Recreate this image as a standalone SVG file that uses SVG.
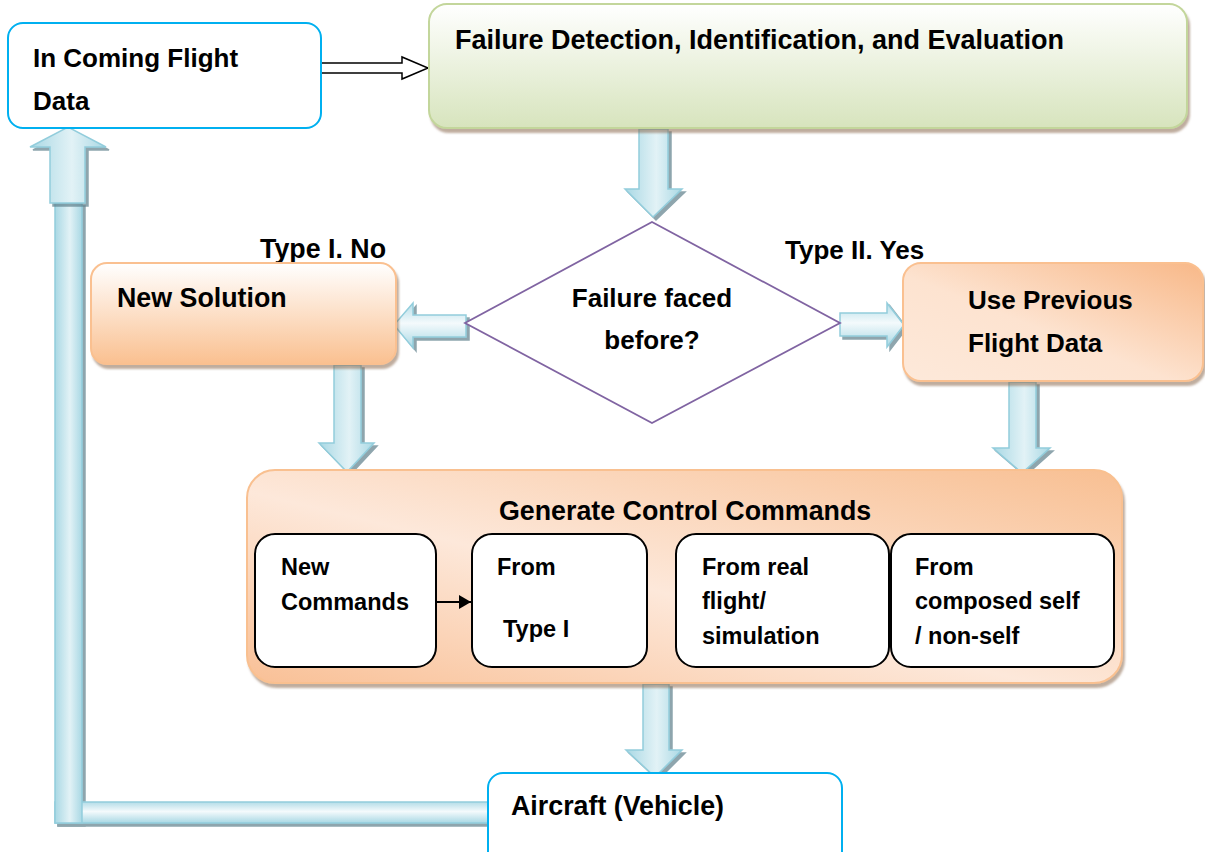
<svg xmlns="http://www.w3.org/2000/svg" width="1205" height="852" viewBox="0 0 1205 852">
<style>
  text { font-family: "Liberation Sans", Arial, sans-serif; font-weight: bold; fill: #000; }
  .big { font-size: 26px; }
  .big27 { font-size: 26.8px; }
  .small { font-size: 23.5px; }
  .mid { text-anchor: middle; }
  .blueBox { fill: #fff; stroke: #00b0f0; stroke-width: 2; }
  .inner { fill: #fff; stroke: #000; stroke-width: 2; }
  .varrow { fill: url(#gV); stroke: #92cddc; stroke-width: 1.5; filter: url(#sh); }
  .harrow { fill: url(#gH); stroke: #92cddc; stroke-width: 1.5; filter: url(#sh); }
</style>
<defs>
  <filter id="sh" x="-20%" y="-20%" width="150%" height="150%">
    <feDropShadow dx="3" dy="3" stdDeviation="0.6" flood-color="#5f7f8a" flood-opacity="0.7"/>
  </filter>
  <linearGradient id="gV" x1="0" y1="0" x2="1" y2="0">
    <stop offset="0" stop-color="#a9d8e4"/>
    <stop offset="0.55" stop-color="#e2f2f6"/>
    <stop offset="1" stop-color="#a9d8e4"/>
  </linearGradient>
  <linearGradient id="gH" x1="0" y1="0" x2="0" y2="1">
    <stop offset="0" stop-color="#b4dde8"/>
    <stop offset="0.45" stop-color="#f4fafc"/>
    <stop offset="1" stop-color="#a9d8e4"/>
  </linearGradient>
  <linearGradient id="gGreen" x1="0" y1="0" x2="0" y2="1">
    <stop offset="0" stop-color="#ffffff"/>
    <stop offset="1" stop-color="#d7e4bd"/>
  </linearGradient>
  <linearGradient id="gOrange" x1="0" y1="0" x2="0" y2="1">
    <stop offset="0" stop-color="#ffffff"/>
    <stop offset="1" stop-color="#fac090"/>
  </linearGradient>
  <linearGradient id="gOrangeDiag" x1="1" y1="0" x2="0" y2="1">
    <stop offset="0" stop-color="#f8b888"/>
    <stop offset="0.55" stop-color="#fde3d0"/>
    <stop offset="1" stop-color="#fde9da"/>
  </linearGradient>
  <linearGradient id="gGen" x1="0" y1="1" x2="1" y2="0">
    <stop offset="0" stop-color="#f9c096"/>
    <stop offset="0.45" stop-color="#fde8da"/>
    <stop offset="1" stop-color="#f8bf92"/>
  </linearGradient>
  <filter id="bsh" x="-5%" y="-5%" width="110%" height="115%">
    <feDropShadow dx="2" dy="4" stdDeviation="0.8" flood-color="#8a6a50" flood-opacity="0.55"/>
  </filter>
  <marker id="ah" markerWidth="12" markerHeight="14" refX="12" refY="7" orient="auto" markerUnits="userSpaceOnUse">
    <path d="M0,0 L12,7 L0,14 Z" fill="#000"/>
  </marker>
</defs>

<g id="connectors">
  <g filter="url(#sh)">
    <rect x="55" y="802" width="433" height="21" fill="url(#gH)" stroke="#92cddc" stroke-width="1.5"/>
    <rect x="55" y="203" width="27" height="620" fill="url(#gV)" stroke="#92cddc" stroke-width="1.5"/>
  </g>
  <polygon class="varrow" points="50,203 85,203 85,147 106,147 68,127 30,147 50,147"/>
  <polygon points="321,63 402,63 402,57 428,68 402,79 402,73 321,73" fill="#fff" stroke="#000" stroke-width="1.5"/>
  <polygon class="varrow" points="639,129 668,129 668,189 682,189 653,217 625,189 639,189"/>
  <polygon class="harrow" points="466,315 466,337 413,337 413,348 394,325 413,303 413,315"/>
  <polygon class="harrow" points="840,313 887,313 887,303 904,325 887,347 887,336 840,336"/>
  <polygon class="varrow" points="334,365 361,365 361,443 374,443 347,472 319,443 334,443"/>
  <polygon class="varrow" points="1009,382 1036,382 1036,448 1050,448 1022,473 993,448 1009,448"/>
  <polygon class="varrow" points="643,684 669,684 669,750 682,750 655,777 626,750 643,750"/>
</g>

<g id="node-incoming">
  <rect class="blueBox" x="8" y="23" width="313" height="105" rx="15"/>
  <text class="big" x="33" y="67">In Coming Flight</text>
  <text class="big" x="33" y="110">Data</text>
</g>

<g id="node-detection">
  <rect x="429" y="4" width="758" height="124" rx="18" fill="url(#gGreen)" stroke="#c3d69b" stroke-width="2" filter="url(#bsh)"/>
  <text x="455" y="49" style="font-size:27px">Failure Detection, Identification, and Evaluation</text>
</g>

<g id="node-decision">
  <polygon points="652,222 840,323 652,423 465,323" fill="#fff" stroke="#8064a2" stroke-width="1.8"/>
  <text class="big mid" x="652" y="307">Failure faced</text>
  <text class="big mid" x="652" y="349">before?</text>
</g>

<g id="label-type1">
  <text class="big27" x="260" y="258">Type I. No</text>
</g>
<g id="label-type2">
  <text class="big" x="785" y="259">Type II. Yes</text>
</g>

<g id="node-new-solution">
  <rect x="91" y="263" width="305" height="101" rx="16" fill="url(#gOrange)" stroke="#fac090" stroke-width="2" filter="url(#bsh)"/>
  <text class="big27" x="117" y="307">New Solution</text>
</g>

<g id="node-use-previous">
  <rect x="903" y="263" width="300" height="118" rx="18" fill="url(#gOrangeDiag)" stroke="#fac090" stroke-width="2" filter="url(#bsh)"/>
  <text class="big" x="968" y="309">Use Previous</text>
  <text class="big" x="968" y="352">Flight Data</text>
</g>

<g id="node-generate">
  <rect x="247" y="470" width="875" height="213" rx="28" fill="url(#gGen)" stroke="#f9c090" stroke-width="2" filter="url(#bsh)"/>
  <text class="big27" x="499" y="520">Generate Control Commands</text>
</g>

<g id="node-new-commands">
  <rect class="inner" x="255" y="534" width="181" height="133" rx="20"/>
  <text class="small" x="281" y="575">New</text>
  <text class="small" x="281" y="610">Commands</text>
</g>

<g id="node-from-type1">
  <rect class="inner" x="472" y="534" width="175" height="133" rx="20"/>
  <text class="small" x="497" y="575">From</text>
  <text class="small" x="503" y="637">Type I</text>
</g>

<g id="node-from-real">
  <rect class="inner" x="676" y="534" width="213" height="133" rx="20"/>
  <text class="small" x="702" y="575">From real</text>
  <text class="small" x="702" y="609">flight/</text>
  <text class="small" x="702" y="644">simulation</text>
</g>

<g id="node-from-composed">
  <rect class="inner" x="891" y="534" width="223" height="133" rx="20"/>
  <text class="small" x="915" y="575">From</text>
  <text class="small" x="915" y="609">composed self</text>
  <text class="small" x="915" y="644">/ non-self</text>
</g>

<g id="inner-connector">
  <line x1="437" y1="602" x2="471" y2="602" stroke="#000" stroke-width="2" marker-end="url(#ah)"/>
</g>

<g id="node-aircraft">
  <rect class="blueBox" x="488" y="773" width="354" height="100" rx="15"/>
  <text class="big27" x="511" y="815">Aircraft (Vehicle)</text>
</g>
</svg>
